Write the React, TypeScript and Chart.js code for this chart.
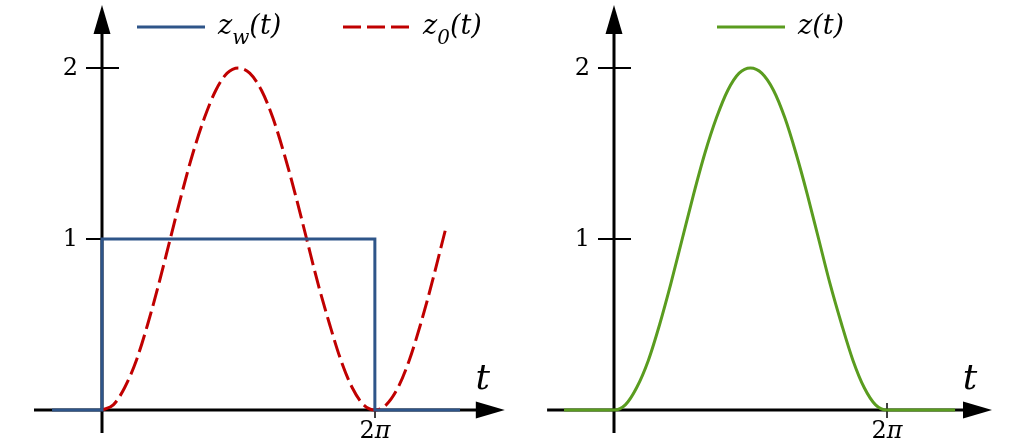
import React, { useEffect, useRef } from "react";
import { Chart, registerables } from "chart.js";

Chart.register(...registerables);

// ---- data (t in radians) ----
const curveT = [0, 0.26, 0.52, 0.79, 1.05, 1.31, 1.57, 1.83, 2.09, 2.36, 2.62, 2.88, 3.14, 3.4, 3.67, 3.93, 4.19, 4.45, 4.71, 4.97, 5.24, 5.5, 5.76, 6.02, 6.28];
const curveZ = [0, 0.03, 0.13, 0.29, 0.5, 0.74, 1, 1.26, 1.5, 1.71, 1.87, 1.97, 2, 1.97, 1.87, 1.71, 1.5, 1.26, 1, 0.74, 0.5, 0.29, 0.13, 0.03, 0];
const z0TailT = [6.54, 6.81, 7.07, 7.33, 7.59, 7.85, 7.93];
const z0TailZ = [0.03, 0.13, 0.29, 0.5, 0.74, 1, 1.08];
const zwT = [-1.15, 0, 0, 6.28, 6.28, 8.24];
const zwZ = [0, 0, 1, 1, 0, 0];
const zLeadT = [-1.15];
const zLeadZ = [0];
const zTrailT = [7.85];
const zTrailZ = [0];
const yTickValues = [1, 2];
const yTickLabels = ["1", "2"];
const xTickValues = [6.2832];
const xTickLabels = ["2", "π"]; // "2π": digit upright, π italic

const BLUE = "#2e5589";
const RED = "#c00000";
const GREEN = "#5a9c1f";
const SERIF = '"DejaVu Serif", "Liberation Serif", serif';

const zip = (xs: number[], ys: number[]) => xs.map((x, i) => ({ x, y: ys[i] }));

type LegendItem = { color: string; dash?: number[]; sub?: string; lineX: number; textX: number };
type Panel = {
  id: string;
  datasets: any[];
  xAxisFrom: number;
  xAxisTo: number;
  legend: LegendItem[];
};

function drawMath(ctx: CanvasRenderingContext2D, x: number, base: number, sub: string | undefined) {
  ctx.font = `italic 27px ${SERIF}`;
  ctx.fillText("z", x, base);
  x += ctx.measureText("z").width;
  if (sub) {
    ctx.font = `italic 20px ${SERIF}`;
    ctx.fillText(sub, x, base + 10);
    x += ctx.measureText(sub).width;
  }
  ctx.font = `italic 27px ${SERIF}`;
  ctx.fillText("(t)", x, base);
}

const makePlugin = (p: Panel) => ({
  id: "axes_" + p.id,
  beforeDatasetsDraw(chart: any) {
    const { ctx, scales } = chart;
    const xs = scales.x, ys = scales.y;
    const x0 = xs.getPixelForValue(0);
    const y0 = ys.getPixelForValue(0);
    ctx.save();
    ctx.strokeStyle = "#000";
    ctx.fillStyle = "#000";
    ctx.lineWidth = 3;
    // x axis
    const xa = xs.getPixelForValue(p.xAxisFrom);
    const xb = xs.getPixelForValue(p.xAxisTo);
    ctx.beginPath();
    ctx.moveTo(xa, y0);
    ctx.lineTo(xb - 25, y0);
    ctx.stroke();
    ctx.beginPath();
    ctx.moveTo(xb, y0);
    ctx.lineTo(xb - 29, y0 - 8.5);
    ctx.lineTo(xb - 29, y0 + 8.5);
    ctx.closePath();
    ctx.fill();
    // y axis
    const ya = ys.getPixelForValue(-0.135);
    const yb = ys.getPixelForValue(2.368);
    ctx.beginPath();
    ctx.moveTo(x0, ya);
    ctx.lineTo(x0, yb + 25);
    ctx.stroke();
    ctx.beginPath();
    ctx.moveTo(x0, yb);
    ctx.lineTo(x0 - 8.5, yb + 29);
    ctx.lineTo(x0 + 8.5, yb + 29);
    ctx.closePath();
    ctx.fill();
    // ticks
    ctx.lineWidth = 2;
    yTickValues.forEach((v) => {
      const py = ys.getPixelForValue(v);
      ctx.beginPath();
      ctx.moveTo(x0 - 16, py);
      ctx.lineTo(x0 + 17, py);
      ctx.stroke();
    });
    ctx.lineWidth = 1.5;
    xTickValues.forEach((v) => {
      const px = xs.getPixelForValue(v);
      ctx.beginPath();
      ctx.moveTo(px, y0 - 7);
      ctx.lineTo(px, y0 + 8);
      ctx.stroke();
    });
    ctx.restore();
  },
  afterDatasetsDraw(chart: any) {
    const { ctx, scales } = chart;
    const xs = scales.x, ys = scales.y;
    const x0 = xs.getPixelForValue(0);
    const y0 = ys.getPixelForValue(0);
    ctx.save();
    ctx.fillStyle = "#000";
    ctx.font = `24px ${SERIF}`;
    ctx.textAlign = "right";
    ctx.textBaseline = "middle";
    yTickValues.forEach((v, i) => {
      ctx.fillText(yTickLabels[i], x0 - 24, ys.getPixelForValue(v) + 1);
    });
    ctx.textAlign = "left";
    ctx.textBaseline = "alphabetic";
    xTickValues.forEach((v) => {
      const fUp = `24px ${SERIF}`;
      const fIt = `italic 24px ${SERIF}`;
      ctx.font = fUp;
      const w1 = ctx.measureText(xTickLabels[0]).width;
      ctx.font = fIt;
      const w2 = ctx.measureText(xTickLabels[1]).width;
      const px = xs.getPixelForValue(v) - (w1 + w2) / 2;
      ctx.font = fUp;
      ctx.fillText(xTickLabels[0], px, y0 + 28);
      ctx.font = fIt;
      ctx.fillText(xTickLabels[1], px + w1, y0 + 28);
    });
    // axis title t
    ctx.textAlign = "center";
    ctx.font = `italic 36px ${SERIF}`;
    ctx.fillText("t", xs.getPixelForValue(p.xAxisTo) - 22, y0 - 21);
    // legend
    ctx.textAlign = "left";
    p.legend.forEach((l) => {
      ctx.strokeStyle = l.color;
      ctx.lineWidth = 3;
      ctx.setLineDash(l.dash || []);
      ctx.beginPath();
      ctx.moveTo(l.lineX, 27);
      ctx.lineTo(l.lineX + 68, 27);
      ctx.stroke();
      ctx.setLineDash([]);
      ctx.fillStyle = "#000";
      drawMath(ctx, l.textX, 34, l.sub);
    });
    ctx.restore();
  },
});

const panels: Panel[] = [
  {
    id: "left",
    xAxisFrom: -1.565,
    xAxisTo: 9.27,
    legend: [
      { color: BLUE, sub: "w", lineX: 137, textX: 218 },
      { color: RED, dash: [18, 6], sub: "0", lineX: 343, textX: 423 },
    ],
    datasets: [
      {
        label: "z_w(t)",
        data: zip(zwT, zwZ),
        borderColor: BLUE,
        borderWidth: 3,
        pointRadius: 0,
        tension: 0,
        fill: false,
      },
      {
        label: "z_0(t)",
        data: zip([...curveT, ...z0TailT], [...curveZ, ...z0TailZ]),
        borderColor: RED,
        borderWidth: 3,
        borderDash: [18, 6],
        pointRadius: 0,
        cubicInterpolationMode: "monotone",
        fill: false,
      },
    ],
  },
  {
    id: "right",
    xAxisFrom: -1.54,
    xAxisTo: 8.7,
    legend: [{ color: GREEN, lineX: 205, textX: 286 }],
    datasets: [
      {
        label: "z(t)",
        data: zip([...zLeadT, ...curveT, ...zTrailT], [...zLeadZ, ...curveZ, ...zTrailZ]),
        borderColor: GREEN,
        borderWidth: 3,
        pointRadius: 0,
        cubicInterpolationMode: "monotone",
        fill: false,
      },
    ],
  },
];

function PanelChart({ panel }: { panel: Panel }) {
  const ref = useRef<HTMLCanvasElement>(null);
  useEffect(() => {
    if (!ref.current) return;
    const chart = new Chart(ref.current, {
      type: "line",
      data: { datasets: panel.datasets },
      options: {
        responsive: false,
        animation: false,
        layout: { padding: 0 },
        plugins: { legend: { display: false }, tooltip: { enabled: false } },
        scales: {
          x: { type: "linear", min: -2.3475, max: 9.436, display: false },
          y: { type: "linear", min: -0.1988, max: 2.3977, display: false },
        },
      },
      plugins: [makePlugin(panel)],
    } as any);
    return () => chart.destroy();
  }, [panel]);
  return <canvas ref={ref} width={512} height={444} style={{ display: "block" }} />;
}

export default function App() {
  return (
    <div style={{ position: "fixed", left: 0, top: 0, width: 1024, height: 444, display: "flex", background: "#fff" }}>
      {panels.map((p) => (
        <PanelChart key={p.id} panel={p} />
      ))}
    </div>
  );
}
